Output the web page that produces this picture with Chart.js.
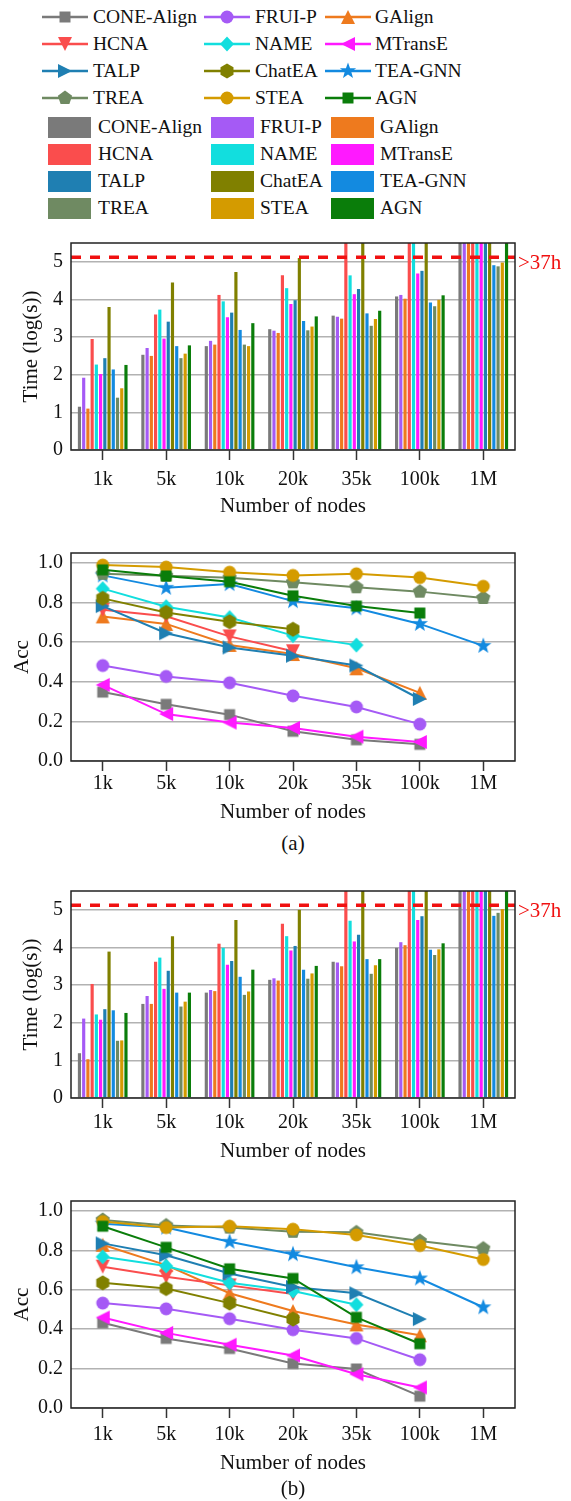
<!DOCTYPE html>
<html>
<head>
<meta charset="utf-8">
<title>Time and accuracy by number of nodes</title>
<script src="https://cdn.jsdelivr.net/npm/chart.js@4.4.1/dist/chart.umd.min.js"></script>
<style>
  html, body { margin: 0; padding: 0; background: #fff; }
  #page { position: relative; width: 571px; height: 1501px; overflow: hidden;
          font-family: 'Liberation Serif', 'Times New Roman', serif; color: #111; }
  #page canvas { position: absolute; left: 0; }
  .txt { position: absolute; font-size: 19.5px; line-height: 24px; white-space: nowrap; }
  .box { position: absolute; width: 43px; height: 21px; }
  .cap { position: absolute; left: 71px; width: 444px; text-align: center; font-size: 21px; line-height: 24px; }
</style>
</head>
<body>
<div id="page">
  <div id="legend"></div>
  <canvas id="timeA"></canvas>
  <canvas id="accA"></canvas>
  <div class="cap" style="top:831px">(a)</div>
  <canvas id="timeB"></canvas>
  <canvas id="accB"></canvas>
  <div class="cap" style="top:1476px">(b)</div>
</div>
<script>
// x axis: graph sizes
var NODES = ['1k', '5k', '10k', '20k', '35k', '100k', '1M'];
var METHODS = ['CONE-Align', 'FRUI-P', 'GAlign', 'HCNA', 'NAME', 'MTransE',
               'TALP', 'ChatEA', 'TEA-GNN', 'TREA', 'STEA', 'AGN'];
var COLORS = ['#7a7a7a', '#a55af5', '#ee7a1e', '#fa4d4d', '#12dede', '#ff19ff',
              '#1f7fb2', '#808000', '#138ae0', '#6f8a62', '#d49b00', '#0a7d0a'];
var MARKERS = ['square', 'circle', 'triUp', 'triDown', 'diamond', 'triLeft',
               'triRight', 'hexagon', 'star', 'pentagon', 'circle', 'square'];

// runs over the time limit (>37h) are cut at the top of the axis
var OVER = 5.5;
var LIMIT = 5.12;
var LIMIT_LABEL = '>37h';

// (a) time, log(s), one row per method
var timeA = [
    [1.15, 2.53, 2.76, 3.21, 3.57, 4.08, OVER],
    [1.92, 2.71, 2.90, 3.17, 3.54, 4.12, OVER],
    [1.10, 2.50, 2.80, 3.11, 3.49, 4.02, OVER],
    [2.95, 3.60, 4.12, 4.64, OVER, OVER, OVER],
    [2.27, 3.73, 3.95, 4.30, 4.64, OVER, OVER],
    [2.02, 2.96, 3.53, 3.88, 4.14, 4.69, OVER],
    [2.44, 3.41, 3.65, 3.98, 4.28, 4.76, OVER],
    [3.80, 4.45, 4.73, 5.10, OVER, OVER, OVER],
    [2.14, 2.76, 3.19, 3.43, 3.63, 3.92, 4.91],
    [1.39, 2.44, 2.80, 3.18, 3.30, 3.82, 4.88],
    [1.64, 2.56, 2.76, 3.28, 3.48, 3.99, 4.98],
    [2.26, 2.78, 3.37, 3.55, 3.70, 4.11, OVER]
];

// (a) accuracy, null where the run did not finish
var accA = [
    [0.348, 0.286, 0.234, 0.150, 0.107, 0.084, null],
    [0.482, 0.427, 0.395, 0.329, 0.273, 0.186, null],
    [0.730, 0.692, 0.586, 0.540, 0.468, 0.344, null],
    [0.763, 0.731, 0.629, 0.554, null, null, null],
    [0.870, 0.779, 0.724, 0.633, 0.585, null, null],
    [0.384, 0.237, 0.194, 0.167, 0.123, 0.096, null],
    [0.782, 0.645, 0.573, 0.531, 0.482, 0.313, null],
    [0.821, 0.750, 0.703, 0.665, null, null, null],
    [0.937, 0.874, 0.893, 0.807, 0.771, 0.692, 0.581],
    [0.945, 0.935, 0.925, 0.902, 0.877, 0.855, 0.823],
    [0.989, 0.979, 0.953, 0.937, 0.945, 0.926, 0.882],
    [0.965, 0.934, 0.905, 0.834, 0.782, 0.747, null]
];

// (b) time, log(s)
var timeB = [
    [1.19, 2.50, 2.80, 3.14, 3.62, 3.99, OVER],
    [2.11, 2.71, 2.87, 3.18, 3.60, 4.14, OVER],
    [1.03, 2.50, 2.84, 3.12, 3.50, 4.06, OVER],
    [3.03, 3.62, 4.10, 4.63, OVER, OVER, OVER],
    [2.22, 3.73, 3.99, 4.30, 4.71, OVER, OVER],
    [2.08, 2.90, 3.54, 3.92, 4.16, 4.73, OVER],
    [2.36, 3.38, 3.64, 4.04, 4.34, 4.83, OVER],
    [3.89, 4.30, 4.73, 5.00, OVER, OVER, OVER],
    [2.33, 2.80, 3.22, 3.41, 3.69, 3.94, 4.84],
    [1.52, 2.43, 2.74, 3.17, 3.30, 3.80, 4.92],
    [1.53, 2.56, 2.83, 3.31, 3.53, 3.95, 5.02],
    [2.26, 2.80, 3.41, 3.51, 3.69, 4.11, OVER]
];

// (b) accuracy
var accB = [
    [0.432, 0.353, 0.302, 0.226, 0.198, 0.060, null],
    [0.532, 0.503, 0.453, 0.397, 0.353, 0.245, null],
    [0.828, 0.725, 0.582, 0.492, 0.424, 0.369, null],
    [0.717, 0.666, 0.622, 0.578, null, null, null],
    [0.767, 0.720, 0.635, 0.593, 0.524, null, null],
    [0.459, 0.381, 0.321, 0.266, 0.171, 0.104, null],
    [0.835, 0.775, 0.682, 0.614, 0.582, 0.451, null],
    [0.635, 0.606, 0.532, 0.451, null, null, null],
    [0.935, 0.915, 0.843, 0.780, 0.714, 0.657, 0.511],
    [0.954, 0.926, 0.915, 0.894, 0.891, 0.847, 0.809],
    [0.946, 0.915, 0.922, 0.907, 0.878, 0.824, 0.753],
    [0.922, 0.815, 0.706, 0.657, 0.460, 0.326, null]
];

var FAMILY = "'Liberation Serif', 'Times New Roman', serif";
var FONT = {family: FAMILY, size: 20};
var TITLE_FONT = {family: FAMILY, size: 21};
var INK = '#111';

function drawMarker(g, kind, x, y, color) {
    function poly(pts) {
        g.beginPath();
        for (var k = 0; k < pts.length; k++) {
            if (k) g.lineTo(x + pts[k][0], y + pts[k][1]);
            else g.moveTo(x + pts[k][0], y + pts[k][1]);
        }
        g.closePath();
    }
    function regular(n, r, start) {
        var pts = [];
        for (var k = 0; k < n; k++) {
            var a = start + k * 2 * Math.PI / n;
            pts.push([r * Math.cos(a), r * Math.sin(a)]);
        }
        poly(pts);
    }
    g.fillStyle = color;
    switch (kind) {
        case 'square': poly([[-5.5, -5.5], [5.5, -5.5], [5.5, 5.5], [-5.5, 5.5]]); break;
        case 'circle': g.beginPath(); g.arc(x, y, 6.5, 0, Math.PI * 2); break;
        case 'triUp': poly([[0, -7], [7, 7], [-7, 7]]); break;
        case 'triDown': poly([[0, 7], [7, -7], [-7, -7]]); break;
        case 'triLeft': poly([[-7, 0], [7, -7], [7, 7]]); break;
        case 'triRight': poly([[7, 0], [-7, -7], [-7, 7]]); break;
        case 'diamond': poly([[0, -7.5], [7, 0], [0, 7.5], [-7, 0]]); break;
        case 'hexagon': regular(6, 7.5, -Math.PI / 2); break;
        case 'pentagon': regular(5, 7.5, -Math.PI / 2); break;
        case 'star':
            var pts = [];
            for (var k = 0; k < 10; k++) {
                var r = k % 2 ? 3.5 : 8.5, a = -Math.PI / 2 + k * Math.PI / 5;
                pts.push([r * Math.cos(a), r * Math.sin(a)]);
            }
            poly(pts);
            break;
    }
    g.fill();
}

function markerImage(kind, color) {
    var c = document.createElement('canvas');
    c.width = 22;
    c.height = 22;
    drawMarker(c.getContext('2d'), kind, 11, 11, color);
    return c;
}

function addText(parent, text, left, top) {
    var d = document.createElement('div');
    d.className = 'txt';
    d.textContent = text;
    d.style.left = left + 'px';
    d.style.top = top + 'px';
    parent.appendChild(d);
}

// legend: line+marker rows, then bar swatch rows
var legend = document.getElementById('legend');
var lineCols = [42, 204, 325], lineText = [93, 255, 375];
var boxCols = [48, 211, 331], boxText = [98, 260, 380];
for (var i = 0; i < METHODS.length; i++) {
    var row = Math.floor(i / 3), col = i % 3;
    var y1 = 17 + 27 * row;
    var icon = document.createElement('canvas');
    icon.width = 46;
    icon.height = 22;
    icon.style.left = lineCols[col] + 'px';
    icon.style.top = (y1 - 11) + 'px';
    var g = icon.getContext('2d');
    g.strokeStyle = COLORS[i];
    g.lineWidth = 2.5;
    g.beginPath();
    g.moveTo(0, 11);
    g.lineTo(46, 11);
    g.stroke();
    drawMarker(g, MARKERS[i], 23, 11, COLORS[i]);
    legend.appendChild(icon);
    addText(legend, METHODS[i], lineText[col], y1 - 12);

    var y2 = 127 + 27 * row;
    var box = document.createElement('div');
    box.className = 'box';
    box.style.left = boxCols[col] + 'px';
    box.style.top = (y2 - 10.5) + 'px';
    box.style.background = COLORS[i];
    legend.appendChild(box);
    addText(legend, METHODS[i], boxText[col], y2 - 12);
}

var framePlugin = {
    id: 'frame',
    afterDraw: function (chart) {
        var a = chart.chartArea, ctx = chart.ctx;
        ctx.save();
        ctx.strokeStyle = '#222';
        ctx.lineWidth = 1.5;
        ctx.strokeRect(a.left, a.top, a.right - a.left, a.bottom - a.top);
        ctx.restore();
    }
};

var limitPlugin = {
    id: 'limit',
    afterDatasetsDraw: function (chart) {
        var a = chart.chartArea, ctx = chart.ctx;
        var y = chart.scales.y.getPixelForValue(LIMIT);
        ctx.save();
        ctx.strokeStyle = '#f01010';
        ctx.lineWidth = 3.5;
        ctx.setLineDash([10, 9]);
        ctx.beginPath();
        ctx.moveTo(a.left, y);
        ctx.lineTo(a.right, y);
        ctx.stroke();
        ctx.setLineDash([]);
        ctx.fillStyle = '#f01010';
        ctx.font = '21px ' + FAMILY;
        ctx.textBaseline = 'middle';
        ctx.fillText(LIMIT_LABEL, a.right + 3, y + 6);
        ctx.restore();
    }
};

function place(id, areaTop, areaBottom, xHeight) {
    var c = document.getElementById(id);
    c.width = 571;
    c.height = areaBottom - areaTop + 6 + xHeight;
    c.style.width = '571px';
    c.style.height = c.height + 'px';
    c.style.top = (areaTop - 6) + 'px';
    return c;
}

function xScale(height, pad) {
    return {
        type: 'category',
        offset: true,
        grid: {offset: false, drawOnChartArea: false, drawTicks: true, tickLength: 10, tickWidth: 1.5, tickColor: '#333'},
        border: {display: false},
        ticks: {padding: pad, color: INK, font: FONT, maxRotation: 0, autoSkip: false},
        title: {display: true, text: 'Number of nodes', color: INK, font: TITLE_FONT, padding: {top: 0, bottom: 4}},
        afterFit: function (s) { s.height = height; }
    };
}

function yScale(max, step, isMajor, digits, title, titlePad) {
    return {
        min: 0,
        max: max,
        bounds: 'data',
        ticks: {
            stepSize: step, includeBounds: false, padding: 8, color: INK, font: FONT,
            callback: function (v) { return isMajor(v) ? v.toFixed(digits) : ''; }
        },
        grid: {
            drawTicks: false,
            color: function (c) { return c.tick && !isMajor(c.tick.value) ? '#cfcfcf' : '#b2b2b2'; },
            lineWidth: function (c) { return c.tick && !isMajor(c.tick.value) ? 1 : 1.5; }
        },
        border: {
            display: false,
            dash: function (c) { return c.tick && !isMajor(c.tick.value) ? [4, 4] : []; }
        },
        title: {display: true, text: title, color: INK, font: TITLE_FONT, padding: {top: titlePad, bottom: 0}},
        afterFit: function (s) { s.width = 71; }
    };
}

function wholeNumber(v) { return Math.abs(v - Math.round(v)) < 1e-6; }
function evenTenth(v) { return Math.abs(v * 5 - Math.round(v * 5)) < 1e-6; }

function baseOptions(xHeight, pad, y) {
    return {
        responsive: false,
        animation: false,
        devicePixelRatio: 1,
        layout: {autoPadding: false, padding: {top: 6, right: 56, bottom: 0, left: 0}},
        plugins: {legend: {display: false}, tooltip: {enabled: false}},
        scales: {x: xScale(xHeight, pad), y: y}
    };
}

function timeChart(id, rows, areaTop, areaBottom, xHeight, pad) {
    var c = place(id, areaTop, areaBottom, xHeight);
    var datasets = [];
    for (var i = 0; i < rows.length; i++) {
        datasets.push({
            label: METHODS[i],
            data: rows[i],
            backgroundColor: COLORS[i],
            borderWidth: 0,
            barPercentage: 0.75,
            categoryPercentage: 0.8
        });
    }
    return new Chart(c, {
        type: 'bar',
        data: {labels: NODES, datasets: datasets},
        options: baseOptions(xHeight, pad, yScale(5.5, 0.5, wholeNumber, 0, 'Time (log(s))', 19)),
        plugins: [limitPlugin, framePlugin]
    });
}

function accChart(id, rows, areaTop, areaBottom, xHeight, pad) {
    var c = place(id, areaTop, areaBottom, xHeight);
    var datasets = [];
    for (var i = 0; i < rows.length; i++) {
        datasets.push({
            label: METHODS[i],
            data: rows[i],
            borderColor: COLORS[i],
            backgroundColor: COLORS[i],
            borderWidth: 2,
            pointStyle: markerImage(MARKERS[i], COLORS[i]),
            pointRadius: 7,
            tension: 0,
            // later methods on top, like the original
            order: rows.length - i
        });
    }
    return new Chart(c, {
        type: 'line',
        data: {labels: NODES, datasets: datasets},
        options: baseOptions(xHeight, pad, yScale(1.05, 0.1, evenTenth, 1, 'Acc', 10)),
        plugins: [framePlugin]
    });
}

timeChart('timeA', timeA, 229, 450, 73, 8);
accChart('accA', accA, 539, 761, 68, 1);
timeChart('timeB', timeB, 877, 1098, 70, 3);
accChart('accB', accB, 1187, 1408, 72, 5);
</script>
</body>
</html>
